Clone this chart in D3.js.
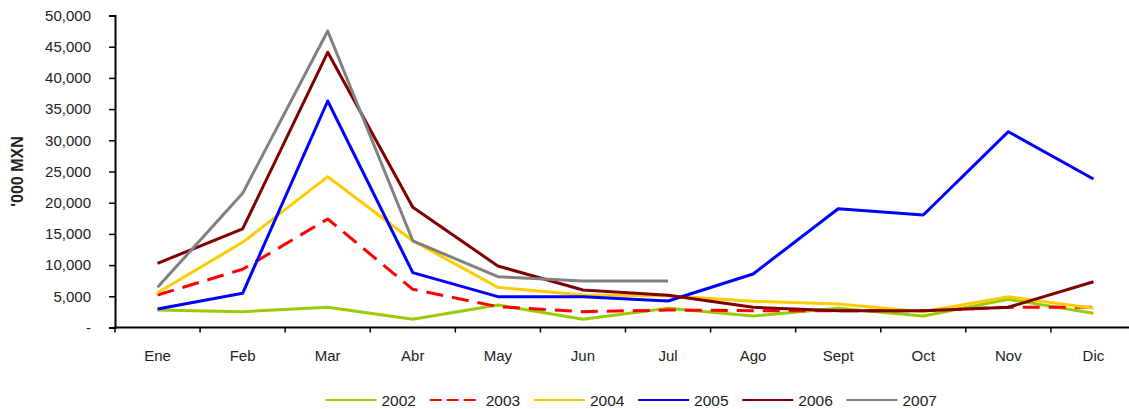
<!DOCTYPE html>
<html>
<head>
<meta charset="utf-8">
<script src="https://cdn.jsdelivr.net/npm/d3@7"></script>
<style>
  body { margin: 0; background: #fff; }
  svg { display: block; font-family: "Liberation Sans", Arial, sans-serif; }
</style>
</head>
<body>
<svg id="chart" width="1129" height="409"></svg>
<script>
// months on the x axis
var months = ["Ene", "Feb", "Mar", "Abr", "May", "Jun", "Jul", "Ago", "Sept", "Oct", "Nov", "Dic"];
// y tick values
var yTicks = [0, 5000, 10000, 15000, 20000, 25000, 30000, 35000, 40000, 45000, 50000];

// one array per year ('000 MXN)
var v2002 = [2800, 2530, 3240, 1310, 3600, 1310, 3080, 1840, 3070, 1840, 4520, 2270];
var v2003 = [5210, 9330, 17390, 6120, 3340, 2540, 2800, 2700, 2700, 2700, 3240, 3240];
var v2004 = [5580, 13650, 24170, 13900, 6440, 5200, 5100, 4200, 3770, 2540, 4940, 3070];
var v2005 = [2960, 5480, 36300, 8790, 4940, 4940, 4250, 8570, 19040, 18030, 31380, 23800];
var v2006 = [10290, 15790, 44100, 19260, 9860, 6010, 5160, 3240, 2700, 2700, 3240, 7340];
var v2007 = [6440, 21500, 47520, 13900, 8140, 7450, 7450];

var series = [
  { name: "2002", values: v2002, color: "#99cc00", dash: null },
  { name: "2003", values: v2003, color: "#ff0000", dash: "17,9" },
  { name: "2004", values: v2004, color: "#ffcc00", dash: null },
  { name: "2005", values: v2005, color: "#0000ff", dash: null },
  { name: "2006", values: v2006, color: "#800000", dash: null },
  { name: "2007", values: v2007, color: "#808080", dash: null }
];

var svg = d3.select("#chart");
var mLeft = 115, mRight = 1136, mTop = 15.5, mBottom = 327.5;

var x = d3.scaleBand().domain(months).range([mLeft, mRight]);
var y = d3.scaleLinear().domain([0, 50000]).range([mBottom, mTop]);

// y axis
var yAxis = svg.append("g")
  .attr("transform", "translate(" + mLeft + ",0)")
  .call(d3.axisLeft(y).tickValues(yTicks).tickSize(6).tickPadding(18)
    .tickFormat(function(d) { return d === 0 ? "-" : d3.format(",")(d); }));
yAxis.select(".domain").attr("stroke", "#000").attr("stroke-width", 2);
yAxis.selectAll(".tick line").attr("stroke", "#000").attr("stroke-width", 1.5);
yAxis.selectAll(".tick text").attr("font-size", "15px").attr("fill", "#222")
  .attr("font-family", "Liberation Sans, Arial, sans-serif");

// x axis with ticks at band edges
var xAxis = svg.append("g")
  .attr("transform", "translate(0," + mBottom + ")");
xAxis.append("line")
  .attr("x1", mLeft - 1).attr("x2", 1129)
  .attr("stroke", "#000").attr("stroke-width", 2);
xAxis.selectAll(".xtick")
  .data(months)
  .enter().append("line")
  .attr("class", "xtick")
  .attr("x1", function(d) { return x(d); })
  .attr("x2", function(d) { return x(d); })
  .attr("y1", 0).attr("y2", 5)
  .attr("stroke", "#000").attr("stroke-width", 1.5);
xAxis.selectAll(".xlabel")
  .data(months)
  .enter().append("text")
  .attr("class", "xlabel")
  .attr("x", function(d) { return x(d) + x.bandwidth() / 2; })
  .attr("y", 33)
  .attr("text-anchor", "middle")
  .attr("font-size", "15px")
  .attr("fill", "#222")
  .text(function(d) { return d; });

// y axis title
svg.append("text")
  .attr("transform", "translate(23," + (mTop + mBottom) / 2 + ") rotate(-90)")
  .attr("text-anchor", "middle")
  .attr("font-size", "16px")
  .attr("font-weight", "bold")
  .attr("fill", "#222")
  .text("'000 MXN");

// lines
var line = d3.line()
  .x(function(d, i) { return x(months[i]) + x.bandwidth() / 2; })
  .y(function(d) { return y(d); });

svg.append("g").selectAll("path")
  .data(series)
  .enter().append("path")
  .attr("d", function(d) { return line(d.values); })
  .attr("fill", "none")
  .attr("stroke", function(d) { return d.color; })
  .attr("stroke-width", 3)
  .attr("stroke-linejoin", "round")
  .attr("stroke-dasharray", function(d) { return d.dash; });

// legend
var legend = svg.append("g").attr("transform", "translate(325.5,400)");
var item = legend.selectAll("g")
  .data(series)
  .enter().append("g")
  .attr("transform", function(d, i) { return "translate(" + (i * 104.2) + ",0)"; });
item.append("line")
  .attr("x1", 0).attr("x2", 51)
  .attr("stroke", function(d) { return d.color; })
  .attr("stroke-width", 2)
  .attr("stroke-dasharray", function(d) { return d.dash ? "12,5" : null; });
item.append("text")
  .attr("x", 56)
  .attr("y", 5.5)
  .attr("font-size", "15.5px")
  .attr("fill", "#222")
  .text(function(d) { return d.name; });
</script>
</body>
</html>
